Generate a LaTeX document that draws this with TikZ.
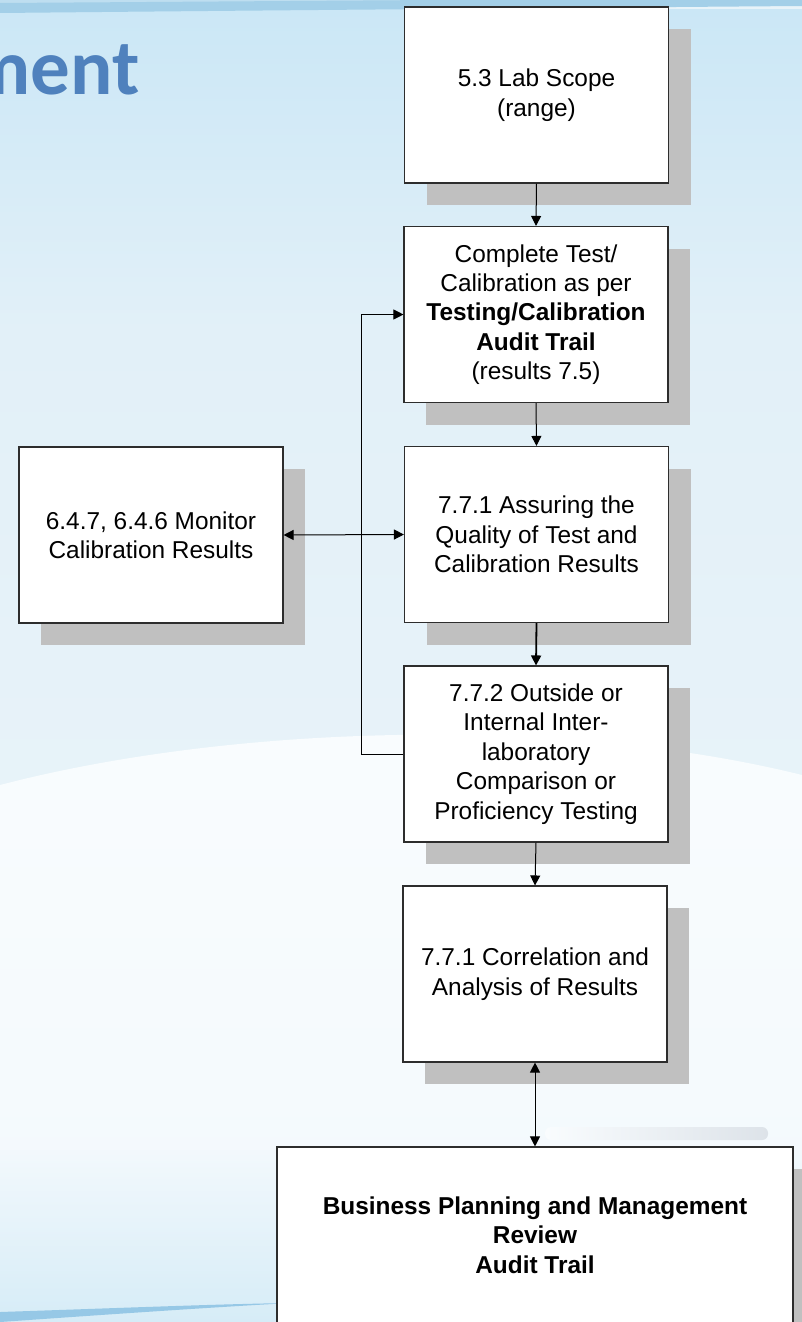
\documentclass[tikz,border=0pt]{standalone}
\usepackage{fontspec}
\setmainfont{Liberation Sans}
\newfontfamily\titlefont{Carlito}
\usetikzlibrary{arrows.meta,shadows}

\definecolor{bgtop}{RGB}{203,231,246}
\definecolor{bgmid}{RGB}{226,240,248}
\definecolor{bglow}{RGB}{232,243,249}
\definecolor{stripe}{RGB}{163,207,232}
\definecolor{stripetop}{RGB}{190,222,240}
\definecolor{swoosh}{RGB}{249,252,254}
\definecolor{bottomblue}{RGB}{214,236,247}
\definecolor{swooshblue}{RGB}{150,200,230}
\definecolor{graybar}{RGB}{221,227,233}
\definecolor{titleblue}{RGB}{79,129,189}
\definecolor{shadowgray}{RGB}{192,192,192}
\definecolor{boxline}{RGB}{45,45,45}

\tikzset{
  box/.style={draw=boxline, fill=white, line width=1.1pt,
    minimum width=264pt, minimum height=176pt, inner sep=0pt,
    align=center, font=\fontsize{24.4}{29.4}\selectfont,
    drop shadow={shadow xshift=22pt, shadow yshift=-22pt,
      fill=shadowgray, opacity=1, draw=none}},
  arr/.style={line width=1pt, -{Triangle[length=10pt,width=10pt]}},
  darr/.style={line width=1pt, {Triangle[length=10pt,width=10pt]}-{Triangle[length=10pt,width=10pt]}},
}

\begin{document}
\begin{tikzpicture}[x=1pt,y=-1pt]
\useasboundingbox (0,0) rectangle (802,1322);
\clip (0,0) rectangle (802,1322);

% background: pale blue slide with a white swoosh
\fill[bglow] (0,0) rectangle (802,1322);
\shade[top color=bgtop, bottom color=bgmid] (0,10) rectangle (802,330);
\shade[top color=bgmid, bottom color=bglow] (0,330) rectangle (802,820);
\fill[stripetop] (0,0) rectangle (802,4);
\fill[stripe] (0,3) .. controls (300,1) and (550,-1) .. (802,-2)
  -- (802,6) .. controls (550,8) and (300,10) .. (0,13) -- cycle;
\shade[top color=swoosh, bottom color=swoosh!60!bglow]
  (0,785) .. controls (230,725) and (560,715) .. (802,775)
  -- (802,1322) -- (0,1322) -- cycle;
\shade[top color=swoosh!60!bglow, bottom color=bottomblue] (0,1150) rectangle (802,1322);
\fill[swooshblue] (0,1312) .. controls (120,1308) and (220,1304) .. (290,1303)
  .. controls (200,1308) and (100,1315) .. (0,1322) -- cycle;
\shade[left color=swoosh, right color=graybar, rounded corners=6pt]
  (545,1127) rectangle (768,1140);

% heading fragment, running off the left edge
\node[font=\titlefont\bfseries\fontsize{79}{84}\selectfont, text=titleblue,
  anchor=base east, inner sep=0pt] (title) at (140,95) {ment};

% process boxes
\node[box] (b1) at (536.5,95) {5.3 Lab Scope\\(range)};
\node[box] (b2) at (536,314.5) {Complete Test/\\Calibration as per\\\textbf{Testing/Calibration}\\\textbf{Audit Trail}\\(results 7.5)};
\node[box] (lb) at (151,535) {6.4.7, 6.4.6 Monitor\\Calibration Results};
\node[box] (b3) at (536.5,534.5) {7.7.1 Assuring the\\Quality of Test and\\Calibration Results};
\node[box] (b4) at (536,754) {7.7.2 Outside or\\Internal Inter-\\laboratory\\Comparison or\\Proficiency Testing};
\node[box] (b5) at (535,974) {7.7.1 Correlation and\\Analysis of Results};
\node[box, minimum width=516pt] (b6) at (535,1235) {\textbf{Business Planning and Management}\\\textbf{Review}\\\textbf{Audit Trail}};

% connectors
\draw[arr] (b1.south) -- (b2.north);
\draw[arr] (b2.south) -- (b3.north);
\draw[arr, line width=1.8pt] (b3.south) -- (b4.north);
\draw[arr] (b4.south) -- (b5.north);
\draw[darr] (b5.south) -- (b6.north);
\draw[darr] (lb.east) -- (b3.west);
\coordinate (fb) at (361,754);
\draw[arr] (b4.west) -- (fb) |- (b2.west);
\end{tikzpicture}
\end{document}
